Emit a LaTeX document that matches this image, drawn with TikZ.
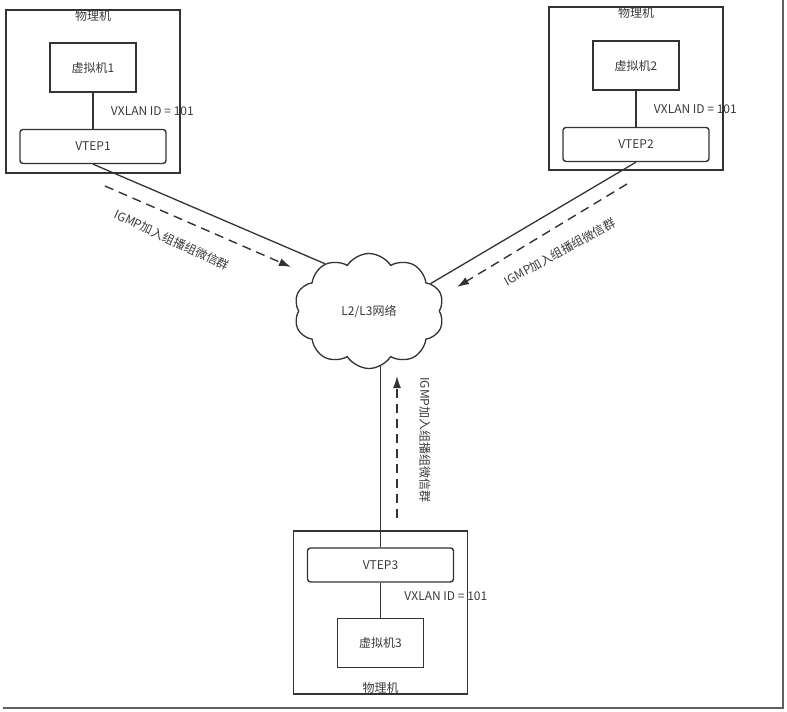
\documentclass[tikz,border=0pt]{standalone}
\usepackage{fontspec}
\newfontfamily\cjk{Noto Sans CJK SC}
\usetikzlibrary{arrows.meta,positioning,shapes.symbols,backgrounds}
\definecolor{linegray}{HTML}{333333}
\definecolor{txtgray}{HTML}{3A3A3A}

\begin{document}
\begin{tikzpicture}[
  x=1pt, y=-1pt,
  font=\cjk\fontsize{12}{14}\selectfont,
  every node/.style={text=txtgray},
  host/.style={draw=linegray, line width=1.5pt, minimum width=174pt, minimum height=163pt},
  vm/.style={draw=linegray, line width=1.5pt, minimum width=86pt, minimum height=49pt},
  vtep/.style={draw=linegray, line width=1.4pt, rounded corners=3pt, minimum width=146pt, minimum height=34pt},
  link/.style={draw=linegray, line width=1.3pt},
  igmp/.style={draw=linegray, line width=1.4pt, dash pattern=on 9pt off 6pt, -{Latex[length=12pt,width=8pt]}}
]
\useasboundingbox (0,0) rectangle (787,712);

% host 1
\node[host] (pc1) at (93,91.5) {};
\node[below=0pt of pc1.north, inner sep=1pt] (pc1lbl) {物理机};
\node[vm, below=33pt of pc1.north] (vm1) {虚拟机1};
\node[vtep, below=36pt of vm1] (vtep1) {VTEP1};
\draw[link] (vm1) -- node[right=14pt] {VXLAN ID = 101} (vtep1);

% host 2
\node[host] (pc2) at (636,88.5) {};
\node[below=0pt of pc2.north, inner sep=1pt] (pc2lbl) {物理机};
\node[vm, below=34pt of pc2.north] (vm2) {虚拟机2};
\node[vtep, below=36pt of vm2] (vtep2) {VTEP2};
\draw[link] (vm2) -- node[right=14pt] {VXLAN ID = 101} (vtep2);

% host 3
\node[host] (pc3) at (380.5,612.5) {};
\node[above=0pt of pc3.south, inner sep=1pt] (pc3lbl) {物理机};
\node[vtep, below=17pt of pc3.north] (vtep3) {VTEP3};
\node[vm, below=35pt of vtep3] (vm3) {虚拟机3};
\draw[link] (vtep3) -- node[right=20pt, yshift=4pt] {VXLAN ID = 101} (vm3);

% network
\node[cloud, draw=linegray, fill=white, line width=1.3pt, cloud puffs=10, cloud puff arc=115,
      cloud ignores aspect, minimum width=150pt, minimum height=115pt] (net) at (369,311) {L2/L3网络};

\begin{scope}[on background layer]
\draw[link] (vtep1.south) -- (net.133);
\draw[link] (vtep2.south) -- (net.24);
\draw[link] (vtep3.north) -- (vtep3.north |- net.center);
\end{scope}

% igmp joins
\coordinate (j1s) at (105,186);
\coordinate (j1e) at (291,267);
\coordinate (j2s) at (627,184);
\coordinate (j2e) at (457,287);
\coordinate (j3s) at (397,518);
\coordinate (j3e) at (397,376);
\draw[igmp] (j1s) -- (j1e);
\draw[igmp] (j2s) -- (j2e);
\draw[igmp] (j3s) -- (j3e);
\node[rotate=-25] (lbl1) at (172,240) {IGMP加入组播组微信群};
\node[rotate=29] (lbl2) at (560,252) {IGMP加入组播组微信群};
\node[rotate=-90] (lbl3) at (425,440) {IGMP加入组播组微信群};

% frame shadow
\draw[line width=2pt, gray!75!black] (3,708) -- (783,708) -- (783,0);
\end{tikzpicture}
\end{document}
